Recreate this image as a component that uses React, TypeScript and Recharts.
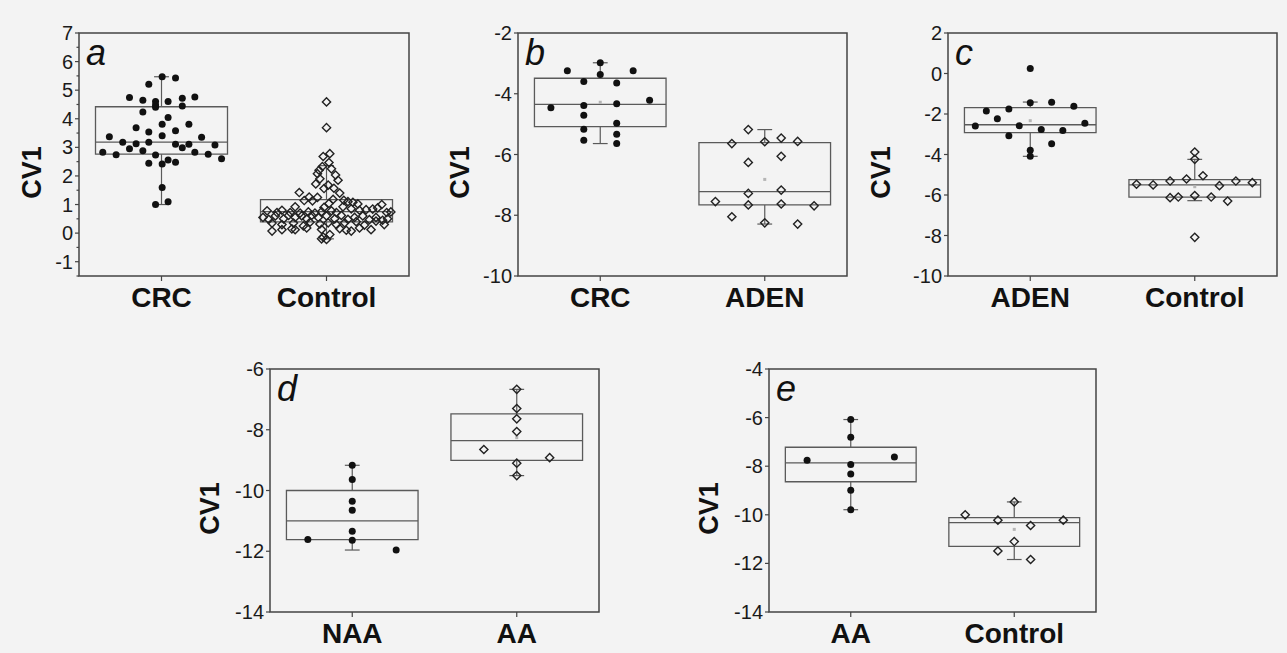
import React from 'react';
import { ScatterChart, Scatter, XAxis, YAxis, ReferenceArea, ReferenceLine } from 'recharts';

// [jitter from category centre, CV1]
type Pt = [number, number];
interface Box { lo: number; q1: number; med: number; q3: number; hi: number; mean?: number }

// ---- panel a ----
const aCats = ['CRC', 'Control'];
const aTicks = [-1.5, -1, -0.5, 0, 0.5, 1, 1.5, 2, 2.5, 3, 3.5, 4, 4.5, 5, 5.5, 6, 6.5, 7];
const aFilled: Pt[] = [
  [-0.356, 2.83], [-0.316, 3.37], [-0.275, 2.74], [-0.235, 3.18], [-0.194, 4.74], [-0.194, 2.95],
  [-0.154, 3.69], [-0.154, 3.13], [-0.113, 4.24], [-0.113, 4.65], [-0.113, 2.88], [-0.077, 3.54],
  [-0.077, 3.18], [-0.077, 2.44], [-0.077, 5.21], [-0.036, 4.6], [-0.036, 4.48], [-0.036, 4.4],
  [-0.036, 2.73], [-0.036, 1.0], [0.004, 5.47], [0.004, 3.81], [0.004, 3.41], [0.004, 2.42],
  [0.004, 1.6], [0.04, 2.56], [0.04, 4.6], [0.04, 1.1], [0.04, 4.04], [0.085, 5.43], [0.085, 3.58],
  [0.085, 3.11], [0.085, 2.48], [0.126, 4.72], [0.126, 4.45], [0.126, 2.99], [0.166, 3.81],
  [0.166, 3.11], [0.202, 4.76], [0.202, 2.83], [0.243, 3.35], [0.283, 2.76], [0.324, 3.08], [0.364, 2.6],
];
const aOpen: Pt[] = [
  [0, 4.59], [0, 3.69], [0.02, 2.78], [-0.02, 2.68], [0.015, 2.47], [-0.025, 2.33], [0.03, 2.25],
  [-0.045, 2.2], [-0.055, 2.08], [0.055, 2.03], [-0.04, 1.9], [0.07, 1.85], [-0.065, 1.72], [0.01, 1.68],
  [0.045, 1.57], [-0.015, 1.56], [-0.165, 1.42], [0.08, 1.4], [-0.105, 1.26], [-0.055, 1.25],
  [-0.135, 1.14], [-0.085, 1.13], [0.04, 1.18], [0.015, 1.04], [0.105, 1.15], [0.13, 1.1], [0.16, 1.08],
  [0.19, 1.02], [-0.19, 0.92], [-0.015, 0.9], [0.1, 0.92],
  [-0.36, 0.78], [-0.3, 0.72], [-0.27, 0.8], [-0.22, 0.72], [-0.16, 0.7], [-0.11, 0.74], [-0.07, 0.7],
  [-0.03, 0.75], [0.03, 0.78], [0.06, 0.72], [0.15, 0.85], [0.2, 0.8], [0.24, 0.82], [0.28, 0.84],
  [0.31, 0.88], [0.335, 1.0], [0.365, 0.72], [0.39, 0.74],
  [-0.385, 0.55], [-0.35, 0.48], [-0.31, 0.6], [-0.26, 0.5], [-0.23, 0.62], [-0.19, 0.55], [-0.15, 0.6],
  [-0.12, 0.5], [-0.09, 0.62], [-0.05, 0.55], [0, 0.6], [0.05, 0.5], [0.09, 0.62], [0.13, 0.48],
  [0.17, 0.55], [0.22, 0.6], [0.26, 0.47], [0.3, 0.55], [0.34, 0.45], [0.37, 0.5],
  [-0.33, 0.35], [-0.27, 0.3], [-0.2, 0.35], [-0.14, 0.25], [-0.1, 0.38], [-0.04, 0.32], [0.01, 0.36],
  [0.06, 0.3], [0.11, 0.36], [0.18, 0.4], [0.23, 0.28], [0.3, 0.42], [0.35, 0.3],
  [-0.33, 0.07], [-0.27, 0.12], [-0.21, 0.15], [-0.19, 0.12], [-0.12, 0.18], [-0.03, 0.13], [0.08, 0.16],
  [0.12, 0.1], [0.15, 0.07], [0.2, 0.18], [0.27, 0.12],
  [-0.02, -0.14], [-0.03, -0.2], [0, -0.22], [0.02, -0.05],
];
const aBoxes: Box[] = [
  { lo: 1.0, q1: 2.76, med: 3.18, q3: 4.42, hi: 5.47 },
  { lo: -0.2, q1: 0.39, med: 0.75, q3: 1.17, hi: 2.36 },
];

// ---- panel b ----
const bCats = ['CRC', 'ADEN'];
const bTicks = [-10, -8, -6, -4, -2];
const bFilled: Pt[] = [
  [-0.2, -3.24], [0, -2.98], [0, -3.37], [0.2, -3.24], [-0.1, -3.6], [0.1, -3.65], [0.3, -4.21], [-0.3, -4.46],
  [-0.1, -4.39], [0.1, -4.33], [-0.1, -4.71], [0.1, -4.97], [-0.1, -5.17], [0.1, -5.33], [-0.1, -5.53], [0.1, -5.64],
];
const bOpen: Pt[] = [
  [-0.1, -5.18], [-0.2, -5.64], [0, -5.58], [0.1, -5.46], [0.2, -5.57], [-0.1, -6.26], [0.1, -6.06], [-0.1, -7.28],
  [0.1, -7.17], [-0.3, -7.55], [-0.1, -7.66], [0.1, -7.63], [0.3, -7.69], [-0.2, -8.05], [0, -8.25], [0.2, -8.29],
];
const bBoxes: Box[] = [
  { lo: -5.64, q1: -5.08, med: -4.35, q3: -3.49, hi: -2.98, mean: -4.28 },
  { lo: -8.29, q1: -7.66, med: -7.22, q3: -5.61, hi: -5.18, mean: -6.82 },
];

// ---- panel c ----
const cCats = ['ADEN', 'Control'];
const cTicks = [-10, -8, -6, -4, -2, 0, 2];
const cFilled: Pt[] = [
  [0, 0.25], [-0.267, -1.85], [-0.13, -1.75], [0, -1.44], [0.13, -1.42], [0.265, -1.62], [-0.2, -2.23], [-0.334, -2.59],
  [-0.067, -2.58], [0.332, -2.46], [0.067, -2.77], [0.198, -2.81], [-0.13, -3.07], [0.13, -3.47], [0, -3.79], [0, -4.09],
];
const cOpen: Pt[] = [
  [0, -3.88], [0, -4.24], [0.05, -5.05], [-0.05, -5.21], [-0.15, -5.31], [0.25, -5.31], [0.35, -5.39], [-0.354, -5.47],
  [-0.253, -5.5], [0.15, -5.54], [0, -6.03], [-0.1, -6.1], [-0.15, -6.13], [0.1, -6.1], [0.2, -6.3], [0, -8.09],
];
const cBoxes: Box[] = [
  { lo: -4.09, q1: -2.92, med: -2.53, q3: -1.69, hi: -1.41, mean: -2.33 },
  { lo: -6.28, q1: -6.1, med: -5.5, q3: -5.24, hi: -4.24, mean: -5.59 },
];

// ---- panel d ----
const dCats = ['NAA', 'AA'];
const dTicks = [-14, -12, -10, -8, -6];
const dFilled: Pt[] = [
  [0, -9.17], [0, -9.64], [0, -10.35], [0, -10.65], [0, -11.34], [0, -11.64], [-0.27, -11.61], [0.267, -11.96],
];
const dOpen: Pt[] = [
  [0, -6.67], [0, -7.3], [0, -7.64], [0, -8.06], [-0.2, -8.65], [0.2, -8.92], [0, -9.1], [0, -9.51],
];
const dBoxes: Box[] = [
  { lo: -11.96, q1: -11.62, med: -11.0, q3: -10.0, hi: -9.17 },
  { lo: -9.51, q1: -9.01, med: -8.36, q3: -7.48, hi: -6.67, mean: -8.26 },
];

// ---- panel e ----
const eCats = ['AA', 'Control'];
const eTicks = [-14, -12, -10, -8, -6, -4];
const eFilled: Pt[] = [
  [0, -6.08], [0, -6.81], [-0.267, -7.75], [0.267, -7.62], [0, -7.93], [0, -8.32], [0, -8.99], [0, -9.79],
];
const eOpen: Pt[] = [
  [0, -9.47], [-0.3, -10.0], [-0.1, -10.22], [0.3, -10.22], [0.1, -10.44], [0, -11.1], [-0.1, -11.49], [0.1, -11.84],
];
const eBoxes: Box[] = [
  { lo: -9.79, q1: -8.64, med: -7.86, q3: -7.22, hi: -6.08 },
  { lo: -11.84, q1: -11.3, med: -10.32, q3: -10.12, hi: -9.47, mean: -10.6 },
];

const BG = '#f3f3f3';
const FONT = '"Liberation Sans", Arial, sans-serif';
const AXIS_W = 92;
const PLOT_H = 243;

const Dot = (p: any) => <circle cx={p.cx} cy={p.cy} r={3.5} fill="#111" />;
const Diamond = (p: any) => {
  const s = 4.1;
  return (
    <path
      d={`M${p.cx},${p.cy - s}L${p.cx + s},${p.cy}L${p.cx},${p.cy + s}L${p.cx - s},${p.cy}Z`}
      fill="none"
      stroke="#222"
      strokeWidth={1.4}
    />
  );
};
const MeanMark = (p: any) => <rect x={p.cx - 1.5} y={p.cy - 1.5} width={3} height={3} fill="#b5b5b5" />;

const YTick = (p: any) => {
  const v = p.payload.value;
  const major = Number.isInteger(v);
  const x0 = p.x + 2;
  return (
    <g>
      <line x1={x0 + (major ? 0 : 1.5)} x2={x0 + 4} y1={p.y} y2={p.y} stroke="#444" strokeWidth={1.2} />
      {major && (
        <text x={p.x} y={p.y} textAnchor="end" dominantBaseline="central" fontSize={20} fill="#1a1a1a" fontFamily={FONT}>
          {v}
        </text>
      )}
    </g>
  );
};

const AxisTitle = (p: any) => {
  const vb = p.viewBox;
  const x = vb.x + vb.width - p.off;
  const y = vb.y + vb.height / 2 + 18;
  return (
    <text x={x} y={y} transform={`rotate(-90 ${x} ${y})`} textAnchor="middle" dominantBaseline="central"
      fontSize={27} fontWeight="bold" fill="#111" fontFamily={FONT}>
      CV1
    </text>
  );
};

const PanelLetter = (p: any) => {
  const vb = p.viewBox;
  return (
    <text x={vb.x + 7} y={vb.y + 32} fontSize={36} fontStyle="italic" fill="#111" fontFamily={FONT}>
      {p.text}
    </text>
  );
};

interface PanelProps {
  left: number;
  top: number;
  plotW: number;
  cats: string[];
  ticks: number[];
  domain: [number, number];
  filled: Pt[];
  open: Pt[];
  boxes: Box[];
  letter: string;
  titleOff: number;
}

function Panel({ left, top, plotW, cats, ticks, domain, filled, open, boxes, letter, titleOff }: PanelProps) {
  const filledData = filled.map(([j, v]) => ({ x: 1 + j, y: v }));
  const openData = open.map(([j, v]) => ({ x: 2 + j, y: v }));
  const meanData = boxes
    .map((b, i) => ({ x: i + 1, y: b.mean }))
    .filter((d) => d.y !== undefined);
  const half = 0.4;
  const cap = 0.045;
  const gray = '#5a5a5a';

  return (
    <div style={{ position: 'absolute', left: left - AXIS_W, top: top - 18 }}>
      <ScatterChart width={AXIS_W + plotW + 6} height={18 + PLOT_H + 42} margin={{ top: 18, right: 6, bottom: 0, left: 0 }}>
        <XAxis
          type="number"
          dataKey="x"
          domain={[0.5, 2.5]}
          ticks={[1, 2]}
          interval={0}
          tickFormatter={(v: number) => cats[v - 1]}
          height={42}
          axisLine={false}
          tickSize={5}
          tickMargin={6}
          tickLine={{ stroke: '#444', strokeWidth: 1.2 }}
          tick={{ fontSize: 28, fontWeight: 'bold', fill: '#111', fontFamily: FONT }}
        />
        <YAxis
          type="number"
          dataKey="y"
          domain={domain}
          ticks={ticks}
          interval={0}
          width={AXIS_W}
          axisLine={false}
          tickLine={false}
          tickSize={4}
          tickMargin={2}
          tick={<YTick />}
          label={<AxisTitle off={titleOff} />}
        />
        <ReferenceArea
          x1={0.5}
          x2={2.5}
          y1={domain[0]}
          y2={domain[1]}
          fill="none"
          stroke="#444"
          strokeWidth={1.5}
          fillOpacity={0}
          ifOverflow="visible"
          label={<PanelLetter text={letter} />}
        />
        {boxes.map((b, i) => (
          <ReferenceArea
            key={`box${i}`}
            x1={i + 1 - half}
            x2={i + 1 + half}
            y1={b.q1}
            y2={b.q3}
            fill="none"
            fillOpacity={0}
            stroke={gray}
            strokeWidth={1.3}
            ifOverflow="visible"
          />
        ))}
        {boxes.map((b, i) => (
          <ReferenceLine key={`med${i}`} segment={[{ x: i + 1 - half, y: b.med }, { x: i + 1 + half, y: b.med }]}
            stroke={gray} strokeWidth={1.3} ifOverflow="visible" />
        ))}
        {boxes.map((b, i) => (
          <ReferenceLine key={`wu${i}`} segment={[{ x: i + 1, y: b.q3 }, { x: i + 1, y: b.hi }]}
            stroke={gray} strokeWidth={1.2} ifOverflow="visible" />
        ))}
        {boxes.map((b, i) => (
          <ReferenceLine key={`wl${i}`} segment={[{ x: i + 1, y: b.q1 }, { x: i + 1, y: b.lo }]}
            stroke={gray} strokeWidth={1.2} ifOverflow="visible" />
        ))}
        {boxes.map((b, i) => (
          <ReferenceLine key={`cu${i}`} segment={[{ x: i + 1 - cap, y: b.hi }, { x: i + 1 + cap, y: b.hi }]}
            stroke={gray} strokeWidth={1.2} ifOverflow="visible" />
        ))}
        {boxes.map((b, i) => (
          <ReferenceLine key={`cl${i}`} segment={[{ x: i + 1 - cap, y: b.lo }, { x: i + 1 + cap, y: b.lo }]}
            stroke={gray} strokeWidth={1.2} ifOverflow="visible" />
        ))}
        <Scatter data={meanData} shape={<MeanMark />} isAnimationActive={false} />
        <Scatter data={filledData} shape={<Dot />} isAnimationActive={false} />
        <Scatter data={openData} shape={<Diamond />} isAnimationActive={false} />
      </ScatterChart>
    </div>
  );
}

export default function App() {
  return (
    <div style={{ position: 'absolute', left: 0, top: 0, width: 1287, height: 653, background: BG, overflow: 'hidden' }}>
      <Panel left={79} top={33} plotW={330} cats={aCats} ticks={aTicks} domain={[-1.5, 7]}
        filled={aFilled} open={aOpen} boxes={aBoxes} letter="a" titleOff={47} />
      <Panel left={518} top={33} plotW={329} cats={bCats} ticks={bTicks} domain={[-10, -2]}
        filled={bFilled} open={bOpen} boxes={bBoxes} letter="b" titleOff={58} />
      <Panel left={948} top={33} plotW={329} cats={cCats} ticks={cTicks} domain={[-10, 2]}
        filled={cFilled} open={cOpen} boxes={cBoxes} letter="c" titleOff={67} />
      <Panel left={270} top={369} plotW={329} cats={dCats} ticks={dTicks} domain={[-14, -6]}
        filled={dFilled} open={dOpen} boxes={dBoxes} letter="d" titleOff={60} />
      <Panel left={769} top={369} plotW={327} cats={eCats} ticks={eTicks} domain={[-14, -4]}
        filled={eFilled} open={eOpen} boxes={eBoxes} letter="e" titleOff={60} />
    </div>
  );
}
